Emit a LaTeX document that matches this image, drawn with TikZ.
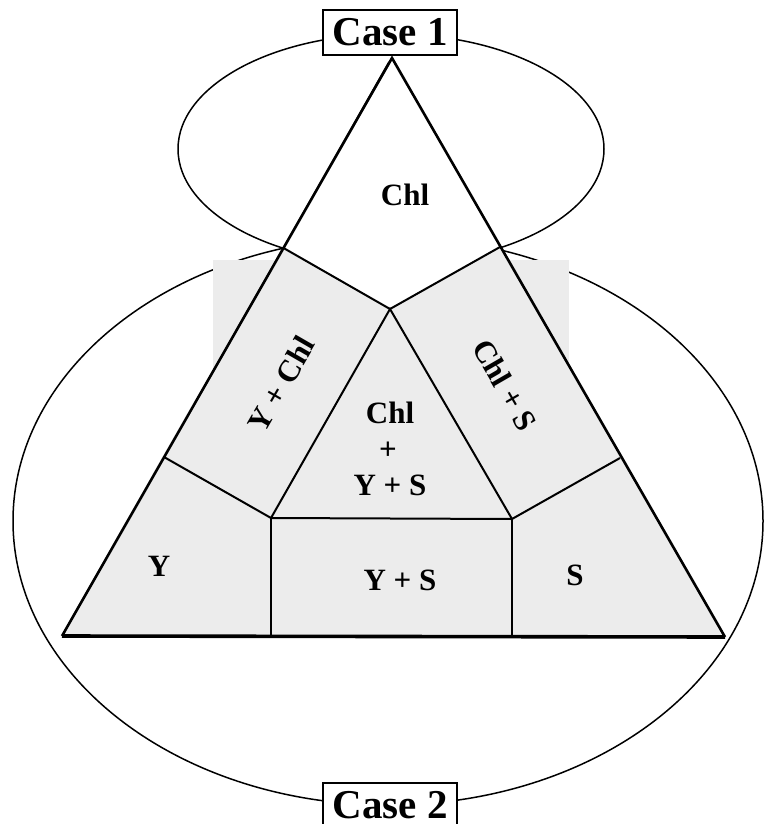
\documentclass[tikz,border=0pt]{standalone}
\usepackage{fontspec}
\setmainfont{Liberation Serif}
\begin{document}
\begin{tikzpicture}[x=1pt,y=-1pt,
  edge/.style={line width=2pt, line join=miter},
  outer/.style={line width=2.6pt, line join=miter},
  oval/.style={line width=1.5pt},
  region/.style={fill=gray!15},
  lab/.style={font=\fontsize{31}{31}\selectfont\bfseries, inner sep=0pt},
  casebox/.style={draw, line width=1.5pt, fill=white, minimum width=134pt, minimum height=45pt, inner sep=0pt, font=\fontsize{41}{41}\selectfont\bfseries}]
\useasboundingbox (0,0) rectangle (763,824);
\fill[white] (0,0) rectangle (763,824);
\coordinate (A) at (392,58);
\coordinate (BL) at (62,636);
\coordinate (BR) at (725,637);
\coordinate (L1) at (283.5,248);
\coordinate (R1) at (500,247);
\coordinate (C) at (390,309);
\coordinate (L2) at (164,457);
\coordinate (R2) at (620,458);
\coordinate (P) at (271,518);
\coordinate (Q) at (512,519);
\coordinate (PB) at (271,636);
\coordinate (QB) at (512,637);
\coordinate (A2) at (389,62);
% ovals
\draw[oval] (388,521) ellipse [x radius=375, y radius=284];
\draw[oval] (391,149) ellipse [x radius=213, y radius=115];
% grey backing rectangles
\fill[region] (213,260) rectangle (340,400);
\fill[region] (442,260) rectangle (569,400);
% regions
\fill[white] (A) -- (L1) -- (C) -- (R1) -- cycle;
\fill[region] (L1) -- (C) -- (R1) -- (BR) -- (BL) -- cycle;
% inner boundaries
\draw[edge] (L1) -- (C) -- (R1);
\draw[edge] (L2) -- (P) -- (C) -- (Q) -- (R2);
\draw[edge] (P) -- (Q);
\draw[edge] (P) -- (PB);
\draw[edge] (Q) -- (QB);
% outer triangle
\draw[outer] (BL) -- (A) -- (BR);
\draw[line width=1.6pt] (A2) -- (L1);
\draw[line width=3.6pt] (BL) -- (BR);
% labels
\node[lab] (chl) at (405,195) {Chl};
\node[lab, rotate=60] (ychl) at (281,384) {Y + Chl};
\node[lab, rotate=-60] (chls) at (505,385) {Chl + S};
\node[lab] (c1) at (390,413) {Chl};
\node[lab] (c2) at (388,451) {+};
\node[lab] (c3) at (390,485) {Y + S};
\node[lab] (y) at (159,566) {Y};
\node[lab] (ys) at (400,580) {Y + S};
\node[lab] (s) at (575,575) {S};
% case boxes
\node[casebox] (case1) at (390,32.5) {Case 1};
\node[casebox] (case2) at (390,805.5) {Case 2};
\end{tikzpicture}
\end{document}
